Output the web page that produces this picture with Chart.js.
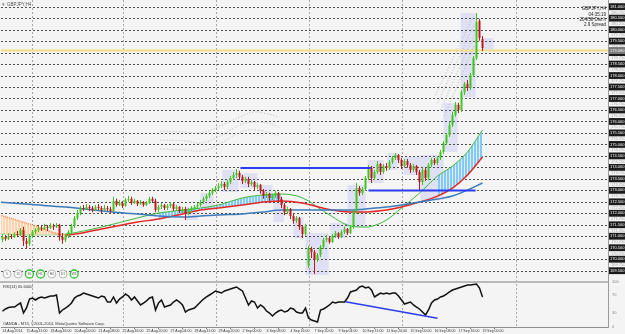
<!DOCTYPE html>
<html>
<head>
<meta charset="utf-8">
<title>GBPJPY,H4</title>
<script src="https://cdn.jsdelivr.net/npm/chart.js@4.4.1/dist/chart.umd.min.js"></script>
<style>
  html, body { margin: 0; padding: 0; background: #f4f4f4; overflow: hidden; }
  canvas { display: block; }
</style>
</head>
<body>
<canvas id="chart" width="625" height="334"></canvas>
<script>
// ---- chart data ----
const symbolTitle = 'GBPJPY,H4';
const infoLines = ['GBPJPY,H4', '04:35:19', '204/58 Dist h', '2.9 Spread'];
const copyright = 'OANDA - MT4, \u00A92001-2014, MetaQuotes Software Corp.';

// time axis: one label every 8 H4 bars
const timeLabels = ['14 Aug 2014', '15 Aug 12:00', '18 Aug 16:00', '20 Aug 00:00', '21 Aug 08:00',
  '22 Aug 16:00', '25 Aug 20:00', '27 Aug 04:00', '28 Aug 12:00', '29 Aug 20:00', '2 Sep 00:00',
  '3 Sep 08:00', '4 Sep 16:00', '7 Sep 20:00', '9 Sep 04:00', '10 Sep 12:00', '11 Sep 20:00',
  '15 Sep 00:00', '16 Sep 08:00', '17 Sep 16:00', '19 Sep 00:00'];
const labelEvery = 8;

const priceTicks = [181.0, 180.5, 180.0, 179.5, 179.0, 178.5, 178.0, 177.5, 177.0, 176.5, 176.0, 175.5,
  175.0, 174.5, 174.0, 173.5, 173.0, 172.5, 172.0, 171.5, 171.0, 170.5, 170.0, 169.5];
const rsiLevels = [100, 70, 30, 0];

// candles
const opens = [
  170.84,170.97,170.88,171.01,170.97,171.10,171.05,171.27,170.80,170.67,
  171.01,171.18,171.27,171.36,171.32,171.41,171.36,171.45,171.41,171.49,
  170.97,170.84,171.01,171.18,171.45,171.79,172.01,172.23,172.19,172.28,
  172.23,172.14,172.28,172.23,172.14,172.23,172.19,172.10,172.54,172.36,
  172.45,172.32,172.58,172.63,172.45,172.54,172.41,172.49,172.36,172.45,
  172.63,172.54,172.14,172.28,172.36,172.23,172.32,172.41,172.19,172.28,
  172.10,172.19,172.01,172.14,172.23,172.28,172.36,172.49,172.63,172.76,
  172.89,173.02,173.10,173.19,173.28,173.15,173.36,173.54,173.67,173.76,
  173.59,173.41,173.50,173.28,173.36,173.15,173.23,172.98,172.76,172.85,
  172.67,172.76,172.89,172.63,172.36,172.05,172.19,171.88,171.67,171.79,
  171.41,171.10,169.75,170.45,170.31,169.97,170.18,170.54,170.84,170.92,
  170.75,171.01,171.14,170.97,171.18,171.32,171.14,171.41,172.05,173.10,
  172.89,173.06,173.54,173.98,173.54,173.80,174.15,173.80,174.06,173.98,
  174.23,174.41,174.54,174.32,174.06,174.28,174.10,173.89,174.06,173.80,
  173.36,173.89,173.54,174.10,174.32,174.19,174.41,174.67,175.06,175.41,
  175.84,176.28,176.72,176.50,177.28,177.64,177.46,178.02,178.76,180.38,
  179.59];
const highs = [
  171.10,171.05,171.14,171.10,171.18,171.23,171.36,171.41,170.92,171.10,
  171.27,171.36,171.45,171.49,171.54,171.49,171.58,171.54,171.58,171.54,
  171.14,171.10,171.27,171.54,171.88,172.14,172.32,172.36,172.41,172.36,
  172.32,172.36,172.41,172.32,172.36,172.32,172.28,172.72,172.63,172.58,
  172.54,172.67,172.76,172.72,172.63,172.58,172.58,172.54,172.54,172.72,
  172.72,172.63,172.36,172.45,172.41,172.41,172.49,172.45,172.36,172.32,
  172.28,172.28,172.23,172.32,172.36,172.45,172.58,172.72,172.85,172.98,
  173.10,173.19,173.32,173.41,173.36,173.45,173.63,173.80,173.93,173.85,
  173.67,173.59,173.59,173.45,173.41,173.32,173.28,173.06,172.93,172.89,
  172.85,172.98,172.93,172.72,172.45,172.28,172.23,171.97,171.88,171.84,
  171.49,171.54,170.58,170.54,170.40,170.27,170.62,170.92,171.05,171.01,
  171.10,171.23,171.18,171.27,171.41,171.36,171.49,172.14,173.32,173.19,
  173.15,173.63,174.10,174.06,173.89,174.28,174.19,174.15,174.19,174.32,
  174.50,174.63,174.58,174.41,174.37,174.37,174.19,174.15,174.10,173.89,
  173.98,173.98,174.19,174.41,174.41,174.50,174.76,175.15,175.50,175.97,
  176.41,176.85,176.81,177.37,177.72,177.81,178.11,178.85,180.72,180.46,
  179.72];
const lows = [
  170.75,170.80,170.84,170.88,170.92,170.97,171.01,170.58,170.45,170.58,
  170.92,171.10,171.18,171.23,171.27,171.23,171.32,171.27,171.36,170.80,
  170.67,170.75,170.92,171.10,171.36,171.71,171.92,172.10,172.14,172.10,
  172.05,172.10,172.14,172.01,172.10,172.10,172.01,172.05,172.28,172.32,
  172.23,172.28,172.49,172.36,172.41,172.32,172.36,172.28,172.32,172.41,
  172.45,172.05,172.05,172.19,172.14,172.14,172.23,172.10,172.10,172.01,
  172.01,171.71,171.92,172.05,172.14,172.19,172.28,172.41,172.54,172.67,
  172.80,172.93,173.02,173.10,173.02,173.06,173.28,173.45,173.54,173.45,
  173.28,173.32,173.15,173.19,173.02,173.06,172.85,172.63,172.67,172.54,
  172.58,172.67,172.49,172.23,171.92,171.97,171.75,171.54,171.58,171.27,
  170.92,171.01,169.62,170.05,169.36,169.88,170.10,170.45,170.75,170.67,
  170.71,170.92,170.88,170.92,171.10,171.05,171.10,171.32,171.97,172.76,
  172.80,172.98,173.45,173.32,173.45,173.72,173.67,173.72,173.85,173.89,
  174.15,174.32,174.19,173.93,173.98,173.98,173.76,173.80,173.67,173.02,
  173.23,173.41,173.45,174.02,174.10,174.10,174.32,174.58,174.97,175.32,
  175.76,176.20,176.37,176.41,177.15,177.33,177.37,177.94,178.68,179.51,
  179.07];
const closes = [
  170.97,170.88,171.01,170.97,171.10,171.05,171.27,170.80,170.67,171.01,
  171.18,171.27,171.36,171.32,171.41,171.36,171.45,171.41,171.49,170.97,
  170.84,171.01,171.18,171.45,171.79,172.01,172.23,172.19,172.28,172.23,
  172.14,172.28,172.23,172.14,172.23,172.19,172.10,172.54,172.36,172.45,
  172.32,172.58,172.63,172.45,172.54,172.41,172.49,172.36,172.45,172.63,
  172.54,172.14,172.28,172.36,172.23,172.32,172.41,172.19,172.28,172.10,
  172.19,172.01,172.14,172.23,172.28,172.36,172.49,172.63,172.76,172.89,
  173.02,173.10,173.19,173.28,173.15,173.36,173.54,173.67,173.76,173.59,
  173.41,173.50,173.28,173.36,173.15,173.23,172.98,172.76,172.85,172.67,
  172.76,172.89,172.63,172.36,172.05,172.19,171.88,171.67,171.79,171.41,
  171.10,171.45,170.49,170.31,169.97,170.18,170.54,170.84,170.92,170.75,
  171.01,171.14,170.97,171.18,171.32,171.14,171.41,172.05,173.10,172.89,
  173.06,173.54,173.98,173.54,173.80,174.15,173.80,174.06,173.98,174.23,
  174.41,174.54,174.32,174.06,174.28,174.10,173.89,174.06,173.80,173.36,
  173.89,173.54,174.10,174.32,174.19,174.41,174.67,175.06,175.41,175.84,
  176.28,176.72,176.50,177.28,177.64,177.46,178.02,178.76,180.33,179.63,
  179.20];

// RSI(14), one value per bar
const rsiValues = [
  34.4,38.9,42.2,43.3,43.3,47.8,52.2,30.0,41.1,61.1,
  63.3,58.9,63.3,65.6,63.3,65.6,67.8,67.8,70.0,30.0,
  36.7,41.1,45.6,52.2,63.3,67.8,70.0,74.4,72.2,70.0,
  67.8,65.6,63.3,67.8,65.6,54.4,54.4,65.6,52.2,61.1,
  65.6,72.2,67.8,58.9,65.6,56.7,47.8,52.2,56.7,63.3,
  65.6,36.7,52.2,58.9,43.3,45.6,47.8,54.4,58.9,54.4,
  47.8,32.2,36.7,38.9,41.1,47.8,54.4,61.1,65.6,70.0,
  74.4,78.9,76.7,74.4,78.9,81.1,83.3,85.6,87.8,83.3,
  78.9,63.3,47.8,56.7,54.4,41.1,47.8,43.3,34.4,30.0,
  23.3,30.0,34.4,36.7,32.2,34.4,41.1,38.9,32.2,30.0,
  30.0,41.1,18.9,14.4,12.2,10.0,36.7,38.9,43.3,47.8,
  54.4,52.2,54.4,54.4,54.4,63.3,76.7,78.9,81.1,87.8,
  90.0,85.6,87.8,81.1,65.6,70.0,74.4,72.2,74.4,72.2,
  74.4,74.4,67.8,58.9,50.0,52.2,54.4,47.8,43.3,38.9,
  32.2,25.6,36.7,52.2,58.9,61.1,65.6,67.8,72.2,76.7,
  81.1,83.3,85.6,87.8,90.0,92.2,92.2,93.3,94.4,85.6,
  65.6];

// moving averages, sampled at these bars
const maKnots = [-1, 10, 21, 33, 45, 52, 60, 66, 72, 80, 87, 93, 100, 108, 116, 121, 128, 133, 139, 145, 150, 155, 160];
const blueMa  = [172.49,172.38,172.27,172.10,171.97,171.88,171.84,171.88,171.93,171.97,172.06,172.14,172.14,172.14,172.14,172.19,172.27,172.36,172.49,172.62,172.75,173.01,173.32];
const redMa   = [171.93,171.49,171.05,171.32,171.62,171.75,171.97,172.14,172.23,172.36,172.49,172.54,172.45,172.19,172.06,172.06,172.14,172.27,172.49,172.75,173.10,173.67,174.45];
const greenMa = [171.10,171.05,171.10,171.40,171.80,172.01,172.14,172.23,172.36,172.67,172.80,172.84,172.67,172.01,171.45,171.40,171.71,172.23,172.88,173.62,174.06,174.67,175.63];
const cloudRanges = [[-1, 21], [52, 93], [145, 160]];

// grey dotted bands
const bandBars   = [52.7, 61, 66, 71.7, 79.3, 83.7, 88.3, 92];
const bandUpper  = [175.58,175.54,175.50,175.76,176.20,176.41,176.33,176.20];
const bandMiddle = [175.19,175.15,175.06,175.32,175.85,175.98,175.93,175.76];
const bandLower  = [174.80,174.76,174.71,174.97,175.54,175.63,175.54,175.37];
const fanStartBars   = [144.3, 145, 146, 147.3];
const fanStartPrices = [177.15, 176.80, 176.50, 176.24];
const fanEndBar      = 157.3;
const fanEndPrices   = [180.68, 180.24, 179.80, 179.32];

// drawn objects
const levelPrices = [173.97, 172.99];
const levelFrom   = [79.3, 122];
const levelTo     = [122.7, 157.7];
const bidLevel = 179.09;
const rsiTrendBars   = [114.3, 145];
const rsiTrendValues = [55.1, 18.2];
const gridBars = [9.7, 40.3, 71.3, 102, 133, 171];

// highlighted bar groups
const boxStart = [61, 66, 73.3, 79.3, 86, 90.3, 97, 101, 109.3, 115, 121.7, 128.3, 133.7, 139.3, 147, 152.7, 160];
const boxEnd   = [65, 70.3, 78.7, 85, 90, 93.7, 100.3, 108.7, 115, 121, 127, 131.7, 139.3, 147, 151.7, 157.7, 163.7];
const boxHigh  = [172.27,172.88,173.89,173.75,173.23,172.49,171.84,171.14,171.58,173.23,174.32,174.63,174.45,174.54,176.80,180.72,179.63];
const boxLow   = [171.71,172.27,172.93,173.10,172.45,171.62,170.92,169.31,170.92,171.40,173.32,173.89,173.67,172.58,174.67,177.06,179.11];

const tfLabels = ['5', '15', '30', 'H1', 'H4', 'D1', 'W1'];
const tfActive = [false, false, true, true, false, false, true];

// ---- helpers ----
const tinyFont = "'Liberation Sans', Arial, sans-serif";

function stripes(main, gap) {
    const c = document.createElement('canvas');
    c.width = 3; c.height = 1;
    const g = c.getContext('2d');
    g.fillStyle = main; g.fillRect(0, 0, 2, 1);
    g.fillStyle = gap; g.fillRect(2, 0, 1, 1);
    return g.createPattern(c, 'repeat');
}

const upColor = '#3fc623';
const downColor = '#c4161c';
const candleColors = opens.map((o, i) => closes[i] >= o ? upColor : downColor);

// ---- datasets ----
const datasets = [];

// clouds between the green and red averages
cloudRanges.forEach((r, k) => {
    const idx = [];
    maKnots.forEach((b, j) => { if (b >= r[0] && b <= r[1]) idx.push(j); });
    datasets.push({
        type: 'line', data: idx.map(j => ({x: maKnots[j], y: greenMa[j]})),
        borderWidth: 0, pointRadius: 0, fill: '+1', cubicInterpolationMode: 'monotone',
        backgroundColor: k === 0 ? stripes('#ffd3ad', '#fff1e4') : stripes('#86c9f4', '#d9effc'),
        order: 10
    });
    datasets.push({
        type: 'line', data: idx.map(j => ({x: maKnots[j], y: redMa[j]})),
        borderWidth: 0, pointRadius: 0, fill: false, cubicInterpolationMode: 'monotone', order: 10
    });
});

function maLine(vals, color, width, earlyColor) {
    return {
        type: 'line', data: maKnots.map((b, j) => ({x: b, y: vals[j]})),
        borderColor: color, borderWidth: width, pointRadius: 0, fill: false,
        cubicInterpolationMode: 'monotone', order: 9,
        segment: earlyColor ? {
            borderColor: ctx => ctx.p1.parsed.x <= 21 ? earlyColor : undefined,
            borderDash: ctx => ctx.p1.parsed.x <= 21 ? [1, 1] : undefined
        } : undefined
    };
}
datasets.push(maLine(blueMa, '#3b7bbb', 1.5));
datasets.push(maLine(redMa, '#e32626', 1.5, '#f08a50'));
datasets.push(maLine(greenMa, '#3cb83c', 1, '#55c455'));

// dotted bands
[bandUpper, bandMiddle, bandLower].forEach(vals => {
    datasets.push({
        type: 'line', data: bandBars.map((b, j) => ({x: b, y: vals[j]})),
        borderColor: '#b8b8b8', borderWidth: 1, borderDash: [1, 2], pointRadius: 0,
        fill: false, tension: 0.4, order: 8
    });
});
fanStartBars.forEach((b, k) => {
    datasets.push({
        type: 'line', data: [{x: b, y: fanStartPrices[k]}, {x: fanEndBar, y: fanEndPrices[k]}],
        borderColor: '#b8b8b8', borderWidth: 1, borderDash: [1, 2], pointRadius: 0, fill: false, order: 8
    });
});

// candles: wicks then bodies
datasets.push({
    type: 'bar', data: opens.map((o, i) => ({x: i, y: [lows[i], highs[i]]})),
    backgroundColor: candleColors, grouped: false, barThickness: 1, maxBarThickness: 1,
    borderWidth: 0, inflateAmount: 0, order: 6
});
datasets.push({
    type: 'bar', data: opens.map((o, i) => ({x: i, y: [o, closes[i]]})),
    backgroundColor: candleColors, grouped: false, barThickness: 2, maxBarThickness: 2,
    minBarLength: 1, borderWidth: 0, inflateAmount: 0, order: 5
});

// blue horizontal objects
levelPrices.forEach((p, k) => {
    datasets.push({
        type: 'line', data: [{x: levelFrom[k], y: p}, {x: levelTo[k], y: p}],
        borderColor: '#2a3cef', borderWidth: 2, pointRadius: 0, fill: false, order: 4
    });
});

// RSI
datasets.push({
    type: 'line', yAxisID: 'yRsi', data: rsiValues.map((v, i) => ({x: i, y: v})),
    borderColor: '#111', borderWidth: 1.5, pointRadius: 0, fill: false, tension: 0, order: 3
});
datasets.push({
    type: 'line', yAxisID: 'yRsi',
    data: rsiTrendBars.map((b, k) => ({x: b, y: rsiTrendValues[k]})),
    borderColor: '#2a3cef', borderWidth: 1.5, pointRadius: 0, fill: false, order: 2
});

// ---- decorations drawn through the scales ----
const mtDecor = {
    id: 'mtDecor',
    beforeDraw(chart) {
        const {ctx, width, height} = chart;
        const y = chart.scales.y;
        ctx.save();
        ctx.fillStyle = '#f4f4f4';
        ctx.fillRect(0, 0, width, height);
        // faint scale values between the level boxes
        ctx.fillStyle = '#a9a9a9';
        ctx.font = '4px ' + tinyFont;
        ctx.textBaseline = 'middle';
        for (let k = 0; k < priceTicks.length - 1; k++) {
            const mid = (priceTicks[k] + priceTicks[k + 1]) / 2;
            ctx.fillText(mid.toFixed(3), 611, y.getPixelForValue(mid));
        }
        ctx.restore();
    },
    beforeDatasetsDraw(chart) {
        const {ctx, chartArea: a, scales: {x, y}} = chart;
        ctx.save();
        // lavender boxes
        ctx.fillStyle = 'rgba(204, 204, 244, 0.5)';
        boxStart.forEach((b, k) => {
            const x1 = x.getPixelForValue(b), x2 = x.getPixelForValue(boxEnd[k]);
            const y1 = y.getPixelForValue(boxHigh[k]), y2 = y.getPixelForValue(boxLow[k]);
            ctx.fillRect(x1, y1, x2 - x1, y2 - y1);
        });
        // vertical grid
        ctx.lineWidth = 1;
        ctx.setLineDash([2, 2]);
        ctx.strokeStyle = '#a8a8a8';
        gridBars.forEach(b => {
            const px = Math.round(x.getPixelForValue(b)) + 0.5;
            ctx.beginPath(); ctx.moveTo(px, a.top); ctx.lineTo(px, a.bottom); ctx.stroke();
        });
        // dashed price levels
        ctx.strokeStyle = '#4d4d4d';
        priceTicks.forEach(v => {
            const py = Math.round(y.getPixelForValue(v)) + 0.5;
            ctx.beginPath(); ctx.moveTo(a.left, py); ctx.lineTo(a.right, py); ctx.stroke();
        });
        ctx.setLineDash([]);
        // bid line
        ctx.strokeStyle = '#f6dd84';
        ctx.lineWidth = 2;
        const by = y.getPixelForValue(bidLevel);
        ctx.beginPath(); ctx.moveTo(a.left, by); ctx.lineTo(a.right, by); ctx.stroke();
        // panel separator
        ctx.fillStyle = '#bababa';
        ctx.fillRect(0, 281, a.right, 2);
        ctx.restore();
    },
    afterDraw(chart) {
        const {ctx, scales: {y, yRsi}} = chart;
        ctx.save();
        ctx.font = '4.5px ' + tinyFont;
        ctx.textBaseline = 'middle';
        // title
        ctx.fillStyle = '#777';
        ctx.fillText('\u25BE', 2, 4.5);
        ctx.fillStyle = '#555';
        ctx.fillText(symbolTitle, 7, 4.5);
        // info block
        ctx.textAlign = 'right';
        ctx.fillStyle = '#222';
        infoLines.forEach((t, k) => ctx.fillText(t, 606, 9 + 5.3 * k));
        // bid label
        const by = y.getPixelForValue(bidLevel);
        ctx.fillStyle = '#7a7a7a';
        ctx.fillRect(609, by - 3.5, 16, 7);
        ctx.fillStyle = '#fff';
        ctx.textAlign = 'left';
        ctx.font = '4px ' + tinyFont;
        ctx.fillText(bidLevel.toFixed(3), 610, by);
        // RSI levels
        ctx.fillStyle = '#8a8a8a';
        rsiLevels.forEach(v => ctx.fillText(String(v), 612, yRsi.getPixelForValue(v)));
        // captions
        ctx.font = '4px ' + tinyFont;
        ctx.fillStyle = '#333';
        ctx.fillText('RSI(14) ' + rsiValues[rsiValues.length - 1].toFixed(4), 3, 287);
        ctx.fillText(copyright, 3, 324);
        // timeframe buttons
        tfLabels.forEach((t, k) => {
            const cx = 7 + 11.2 * k, cy = 274;
            ctx.beginPath();
            ctx.arc(cx, cy, 4, 0, Math.PI * 2);
            ctx.fillStyle = '#fbfbfb';
            ctx.fill();
            ctx.lineWidth = tfActive[k] ? 1.3 : 0.8;
            ctx.strokeStyle = tfActive[k] ? '#2fbf2f' : '#a5a5a5';
            ctx.stroke();
            ctx.fillStyle = '#555';
            ctx.textAlign = 'center';
            ctx.font = '3.2px ' + tinyFont;
            ctx.fillText(t, cx, cy);
        });
        ctx.restore();
    }
};

new Chart(document.getElementById('chart'), {
    type: 'line',
    data: { datasets: datasets },
    options: {
        responsive: false,
        devicePixelRatio: 1,
        animation: false,
        events: [],
        layout: { padding: { left: 1, right: 0, top: 0, bottom: 0 }, autoPadding: false },
        plugins: { legend: { display: false }, tooltip: { enabled: false } },
        scales: {
            x: {
                type: 'linear', min: -0.5, max: 201.833, bounds: 'data', offset: false,
                afterBuildTicks: s => { s.ticks = timeLabels.map((_, k) => ({ value: k * labelEvery })); },
                afterFit: s => { s.height = 7; s.paddingLeft = 0; s.paddingRight = 0; },
                ticks: {
                    autoSkip: false, maxRotation: 0, minRotation: 0, align: 'start', padding: 0,
                    color: '#333', font: { size: 3.5, family: tinyFont },
                    callback: (v, i) => timeLabels[i]
                },
                grid: { drawOnChartArea: false, drawTicks: true, tickLength: 2, tickColor: '#777' },
                border: { display: true, color: '#8e8e8e' }
            },
            y: {
                type: 'linear', position: 'right', min: 167.048, max: 181.29, bounds: 'data',
                afterBuildTicks: s => { s.ticks = priceTicks.map(v => ({ value: v })); },
                afterFit: s => { s.width = 17; s.paddingTop = 0; s.paddingBottom = 0; },
                ticks: {
                    autoSkip: false, padding: 2, color: '#fff', font: { size: 4, family: tinyFont },
                    showLabelBackdrop: true, backdropColor: '#1b1b1b',
                    backdropPadding: { top: 1, bottom: 1, left: 1, right: 12 },
                    callback: v => v.toFixed(3)
                },
                grid: { display: false, drawTicks: false },
                border: { display: true, color: '#9a9a9a' }
            },
            yRsi: { type: 'linear', axis: 'y', display: false, min: -1.11, max: 725.56 }
        }
    },
    plugins: [mtDecor]
});
</script>
</body>
</html>
